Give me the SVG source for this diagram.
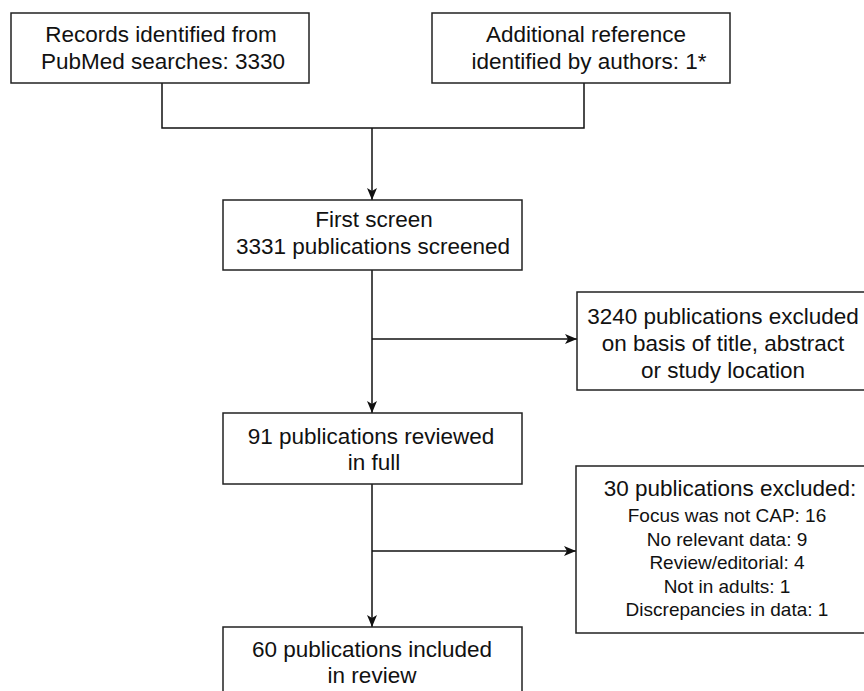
<svg xmlns="http://www.w3.org/2000/svg" width="864" height="691" viewBox="0 0 864 691">
<style>
.box{fill:#fff;stroke:#222;stroke-width:1.5}
.t{font-family:"Liberation Sans",Arial,Helvetica,sans-serif;font-size:22.5px;fill:#111;text-anchor:middle}
.s{font-size:19px}
.c{fill:none;stroke:#111;stroke-width:1.5}
</style>
<defs>
<marker id="ah" viewBox="0 0 12 10" refX="12" refY="5" markerWidth="12" markerHeight="10" markerUnits="userSpaceOnUse" orient="auto">
<path d="M0,0 L12,5 L0,10 L3,5 Z" fill="#111"/>
</marker>
</defs>
<rect width="864" height="691" fill="#fff"/>
<g id="connectors">
<path class="c" d="M162,83 V128 H584 V83"/>
<path class="c" d="M372,128 V200" marker-end="url(#ah)"/>
<path class="c" d="M372,270 V413" marker-end="url(#ah)"/>
<path class="c" d="M372,339 H577" marker-end="url(#ah)"/>
<path class="c" d="M372,484 V627" marker-end="url(#ah)"/>
<path class="c" d="M372,551 H576" marker-end="url(#ah)"/>
</g>
<g id="n1">
<rect class="box" x="11" y="13" width="298" height="70"/>
<text class="t" x="161" y="42">Records identified from</text>
<text class="t" x="163" y="69">PubMed searches: 3330</text>
</g>
<g id="n2">
<rect class="box" x="432" y="13" width="298" height="70"/>
<text class="t" x="586" y="42">Additional reference</text>
<text class="t" x="589" y="69">identified by authors: 1*</text>
</g>
<g id="n3">
<rect class="box" x="223" y="200" width="299" height="70"/>
<text class="t" x="374" y="227">First screen</text>
<text class="t" x="373" y="254">3331 publications screened</text>
</g>
<g id="n4">
<rect class="box" x="577" y="292" width="293" height="98"/>
<text class="t" x="723" y="324">3240 publications excluded</text>
<text class="t" x="723" y="351">on basis of title, abstract</text>
<text class="t" x="723" y="378">or study location</text>
</g>
<g id="n5">
<rect class="box" x="223" y="413" width="299" height="71"/>
<text class="t" x="371" y="444">91 publications reviewed</text>
<text class="t" x="374" y="470">in full</text>
</g>
<g id="n6">
<rect class="box" x="576" y="466" width="294" height="167"/>
<text class="t" x="730" y="496">30 publications excluded:</text>
<text class="t s" x="727" y="522">Focus was not CAP: 16</text>
<text class="t s" x="727" y="546">No relevant data: 9</text>
<text class="t s" x="727" y="569">Review/editorial: 4</text>
<text class="t s" x="727" y="593">Not in adults: 1</text>
<text class="t s" x="727" y="616">Discrepancies in data: 1</text>
</g>
<g id="n7">
<rect class="box" x="223" y="627" width="299" height="80"/>
<text class="t" x="372" y="657">60 publications included</text>
<text class="t" x="372" y="683">in review</text>
</g>
</svg>
